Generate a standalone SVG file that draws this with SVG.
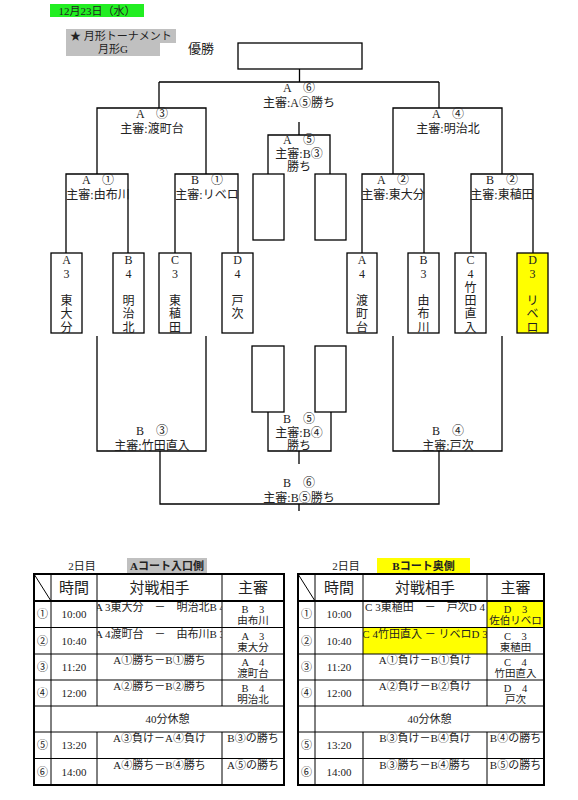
<svg xmlns="http://www.w3.org/2000/svg" width="578" height="800" viewBox="0 0 578 800">
<style>
.ln{stroke:#000;stroke-width:1.3;fill:none}
.bx{stroke:#000;stroke-width:1.3;fill:#fff}
.t{font-family:"Liberation Serif","Noto Sans CJK JP",serif;font-size:12px;fill:#222;text-anchor:middle}
.c{font-family:"Noto Sans CJK JP",sans-serif}
.s{font-size:11px}
.tb{font-size:10.5px}
.tm{font-size:11px}
.h{font-size:15px}
.tl{stroke:#000;stroke-width:1;fill:none}
.tk{stroke:#000;stroke-width:2;fill:none}
</style>
<defs>
<clipPath id="cL1"><rect x="97" y="601" width="125" height="26.5"/></clipPath>
<clipPath id="cL2"><rect x="97" y="627.5" width="125" height="26.5"/></clipPath>
<clipPath id="cR1"><rect x="363" y="601" width="124" height="26.5"/></clipPath>
<clipPath id="cR2"><rect x="363" y="627.5" width="124" height="26.5"/></clipPath>
</defs>
<rect width="578" height="800" fill="#fff"/>

<g id="header">
<rect x="50" y="4" width="94" height="13" fill="#22ee22"/>
<text class="t s" x="97" y="14.5">12月23日（水）</text>
<rect x="66" y="29" width="110" height="14" fill="#c0c0c0"/>
<rect x="66" y="43" width="94" height="13" fill="#c0c0c0"/>
<text class="t s" x="70" y="40" style="text-anchor:start">★ 月形トーナメント</text>
<text class="t s" x="113" y="53">月形G</text>
<text class="t" x="201" y="53" style="font-size:13px">優勝</text>
</g>

<g id="connectors">
<path class="ln" d="M299.5 69V82M159 82H439M159 82V108M439 82V108"/>
<path class="ln" d="M97 174V108H206V174"/>
<path class="ln" d="M393 174V108H502V174"/>
<path class="ln" d="M299 122V135M268 174V135H330V174"/>
<path class="ln" d="M66 253V174H128V253"/>
<path class="ln" d="M175 253V174H238V253"/>
<path class="ln" d="M362 253V174H424V253"/>
<path class="ln" d="M471 253V174H533V253"/>
<path class="ln" d="M97 336V451H206V336"/>
<path class="ln" d="M393 336V451H502V336"/>
<path class="ln" d="M268 412V451H331V412M299 451V464"/>
<path class="ln" d="M160 451V504H439V451M299 504V511"/>
</g>

<g id="winner"><rect class="bx" x="238" y="43" width="124" height="26"/></g>

<g id="labels">
<g id="mA6"><text class="t" x="299" y="91.5">A　<tspan class="c">⑥</tspan></text><text class="t" x="299" y="106.5">主審:A<tspan class="c">⑤</tspan>勝ち</text></g>
<g id="mA3"><text class="t" x="152" y="118">A　<tspan class="c">③</tspan></text><text class="t" x="152" y="132.5">主審:渡町台</text></g>
<g id="mA4"><text class="t" x="448" y="118">A　<tspan class="c">④</tspan></text><text class="t" x="448" y="132.5">主審:明治北</text></g>
<g id="mA5"><text class="t" x="299" y="144">A　<tspan class="c">⑤</tspan></text><text class="t" x="299" y="157.5">主審:B<tspan class="c">③</tspan></text><text class="t" x="299" y="171">勝ち</text></g>
<g id="mA1"><text class="t" x="98" y="184">A　<tspan class="c">①</tspan></text><text class="t" x="98" y="199">主審:由布川</text></g>
<g id="mB1"><text class="t" x="207" y="184">B　<tspan class="c">①</tspan></text><text class="t" x="207" y="199">主審:リベロ</text></g>
<g id="mA2"><text class="t" x="393" y="184">A　<tspan class="c">②</tspan></text><text class="t" x="393" y="199">主審:東大分</text></g>
<g id="mB2"><text class="t" x="502" y="184">B　<tspan class="c">②</tspan></text><text class="t" x="502" y="199">主審:東稙田</text></g>
<g id="mB3"><text class="t" x="152" y="435">B　<tspan class="c">③</tspan></text><text class="t" x="152" y="449.5">主審:竹田直入</text></g>
<g id="mB5"><text class="t" x="299" y="423">B　<tspan class="c">⑤</tspan></text><text class="t" x="299" y="436.5">主審:B<tspan class="c">④</tspan></text><text class="t" x="299" y="449.5">勝ち</text></g>
<g id="mB4"><text class="t" x="448" y="435">B　<tspan class="c">④</tspan></text><text class="t" x="448" y="449.5">主審:戸次</text></g>
<g id="mB6"><text class="t" x="299" y="486.5">B　<tspan class="c">⑥</tspan></text><text class="t" x="299" y="501.5">主審:B<tspan class="c">⑤</tspan>勝ち</text></g>
</g>

<g id="slots">
<rect class="bx" x="253" y="174" width="31" height="66"/>
<rect class="bx" x="315" y="174" width="31" height="66"/>
<rect class="bx" x="252" y="346" width="32" height="66"/>
<rect class="bx" x="315" y="346" width="31" height="66"/>
</g>

<g id="teamA3"><rect class="bx" x="51" y="253" width="31" height="80"/><text class="t" x="66.5" y="264">A</text><text class="t" x="66.5" y="278">3</text><text class="t" x="66.5" y="304.5">東</text><text class="t" x="66.5" y="318">大</text><text class="t" x="66.5" y="331.5">分</text></g>
<g id="teamB4"><rect class="bx" x="113" y="253" width="31" height="80"/><text class="t" x="128.5" y="264">B</text><text class="t" x="128.5" y="278">4</text><text class="t" x="128.5" y="304.5">明</text><text class="t" x="128.5" y="318">治</text><text class="t" x="128.5" y="331.5">北</text></g>
<g id="teamC3"><rect class="bx" x="159" y="253" width="32" height="80"/><text class="t" x="175" y="264">C</text><text class="t" x="175" y="278">3</text><text class="t" x="175" y="304.5">東</text><text class="t" x="175" y="318">稙</text><text class="t" x="175" y="331.5">田</text></g>
<g id="teamD4"><rect class="bx" x="222" y="253" width="31" height="80"/><text class="t" x="237.5" y="264">D</text><text class="t" x="237.5" y="278">4</text><text class="t" x="237.5" y="304.5">戸</text><text class="t" x="237.5" y="318">次</text></g>
<g id="teamA4"><rect class="bx" x="347" y="253" width="30" height="80"/><text class="t" x="362" y="264">A</text><text class="t" x="362" y="278">4</text><text class="t" x="362" y="304.5">渡</text><text class="t" x="362" y="318">町</text><text class="t" x="362" y="331.5">台</text></g>
<g id="teamB3"><rect class="bx" x="408" y="253" width="31" height="80"/><text class="t" x="423.5" y="264">B</text><text class="t" x="423.5" y="278">3</text><text class="t" x="423.5" y="304.5">由</text><text class="t" x="423.5" y="318">布</text><text class="t" x="423.5" y="331.5">川</text></g>
<g id="teamC4"><rect class="bx" x="455" y="253" width="31" height="80"/><text class="t" x="470.5" y="264">C</text><text class="t" x="470.5" y="278">4</text><text class="t" x="470.5" y="291.5">竹</text><text class="t" x="470.5" y="304.5">田</text><text class="t" x="470.5" y="318">直</text><text class="t" x="470.5" y="331.5">入</text></g>
<g id="teamD3"><rect class="bx" x="517" y="253" width="31" height="80" style="fill:#ffff00"/><text class="t" x="532.5" y="264">D</text><text class="t" x="532.5" y="278">3</text><text class="t" x="532.5" y="304.5">リ</text><text class="t" x="532.5" y="318">ベ</text><text class="t" x="532.5" y="331.5">ロ</text></g>

<g id="tableA">
<text class="t s" x="82" y="570">2日目</text>
<rect x="127" y="558" width="80" height="15" fill="#c0c0c0"/>
<text class="t s" x="167" y="570" style="font-weight:bold">Aコート入口側</text>
<path class="tl" d="M34 574L51 601"/>
<path class="tl" d="M34 627.5H284M34 654H284M34 680H284M34 706H284M34 732H284M34 758.5H284"/>
<path class="tk" d="M34 601H284"/>
<path class="tl" d="M51 574V785M97 574V706M97 732V785M222 574V706M222 732V785"/>
<rect class="tk" x="34" y="574" width="250" height="211"/>
<text class="t h" x="74" y="593">時間</text>
<text class="t h" x="159.5" y="593">対戦相手</text>
<text class="t h" x="253" y="593">主審</text>
<g class="t tm c"><text x="42.5" y="618">①</text><text x="42.5" y="645">②</text><text x="42.5" y="671">③</text><text x="42.5" y="697">④</text><text x="42.5" y="749">⑤</text><text x="42.5" y="776">⑥</text></g>
<text class="t tm" x="74" y="618">10:00</text><text class="t tm" x="74" y="645">10:40</text><text class="t tm" x="74" y="671">11:20</text><text class="t tm" x="74" y="697">12:00</text><text class="t tm" x="74" y="749">13:20</text><text class="t tm" x="74" y="776">14:00</text>
<text class="t s" x="160" y="611" clip-path="url(#cL1)">A 3東大分　－　明治北B 4</text>
<text class="t s" x="160" y="637.5" clip-path="url(#cL2)">A 4渡町台　－　由布川B 3</text>
<text class="t s" x="159.5" y="664">A<tspan class="c">①</tspan>勝ち－B<tspan class="c">①</tspan>勝ち</text>
<text class="t s" x="159.5" y="690">A<tspan class="c">②</tspan>勝ち－B<tspan class="c">②</tspan>勝ち</text>
<text class="t s" x="167.5" y="723">40分休憩</text>
<text class="t s" x="159.5" y="742">A<tspan class="c">③</tspan>負け－A<tspan class="c">④</tspan>負け</text>
<text class="t s" x="159.5" y="768.5">A<tspan class="c">④</tspan>勝ち－B<tspan class="c">④</tspan>勝ち</text>
<text class="t tb" x="253" y="613">B　3</text><text class="t tb" x="253" y="624">由布川</text>
<text class="t tb" x="253" y="639.5">A　3</text><text class="t tb" x="253" y="650.5">東大分</text>
<text class="t tb" x="253" y="666">A　4</text><text class="t tb" x="253" y="677">渡町台</text>
<text class="t tb" x="253" y="692">B　4</text><text class="t tb" x="253" y="703">明治北</text>
<text class="t s" x="253" y="742">B<tspan class="c">③</tspan>の勝ち</text>
<text class="t s" x="253" y="768.5">A<tspan class="c">⑤</tspan>の勝ち</text>
</g>

<g id="tableB">
<text class="t s" x="346" y="570">2日目</text>
<rect x="377" y="558" width="93" height="15" fill="#ffff00"/>
<text class="t s" x="423.5" y="570" style="font-weight:bold">Bコート奥側</text>
<rect x="487" y="601" width="57" height="26.5" fill="#ffff00"/>
<rect x="363" y="627.5" width="124" height="26.5" fill="#ffff00"/>
<path class="tl" d="M298 574L315 601"/>
<path class="tl" d="M298 627.5H544M298 654H544M298 680H544M298 706H544M298 732H544M298 758.5H544"/>
<path class="tk" d="M298 601H544"/>
<path class="tl" d="M315 574V785M363 574V706M363 732V785M487 574V706M487 732V785"/>
<rect class="tk" x="298" y="574" width="246" height="211"/>
<text class="t h" x="339" y="593">時間</text>
<text class="t h" x="425" y="593">対戦相手</text>
<text class="t h" x="515.5" y="593">主審</text>
<g class="t tm c"><text x="306.5" y="618">①</text><text x="306.5" y="645">②</text><text x="306.5" y="671">③</text><text x="306.5" y="697">④</text><text x="306.5" y="749">⑤</text><text x="306.5" y="776">⑥</text></g>
<text class="t tm" x="339" y="618">10:00</text><text class="t tm" x="339" y="645">10:40</text><text class="t tm" x="339" y="671">11:20</text><text class="t tm" x="339" y="697">12:00</text><text class="t tm" x="339" y="749">13:20</text><text class="t tm" x="339" y="776">14:00</text>
<text class="t s" x="425" y="611" clip-path="url(#cR1)">C 3東稙田　－　戸次D 4</text>
<text class="t s" x="425" y="637.5" clip-path="url(#cR2)">C 4竹田直入 － リベロD 3</text>
<text class="t s" x="425" y="664">A<tspan class="c">①</tspan>負け－B<tspan class="c">①</tspan>負け</text>
<text class="t s" x="425" y="690">A<tspan class="c">②</tspan>負け－B<tspan class="c">②</tspan>負け</text>
<text class="t s" x="429.5" y="723">40分休憩</text>
<text class="t s" x="425" y="742">B<tspan class="c">③</tspan>負け－B<tspan class="c">④</tspan>負け</text>
<text class="t s" x="425" y="768.5">B<tspan class="c">③</tspan>勝ち－B<tspan class="c">④</tspan>勝ち</text>
<text class="t tb" x="515.5" y="613">D　3</text><text class="t tb" x="515.5" y="624">佐伯リベロ</text>
<text class="t tb" x="515.5" y="639.5">C　3</text><text class="t tb" x="515.5" y="650.5">東稙田</text>
<text class="t tb" x="515.5" y="666">C　4</text><text class="t tb" x="515.5" y="677">竹田直入</text>
<text class="t tb" x="515.5" y="692">D　4</text><text class="t tb" x="515.5" y="703">戸次</text>
<text class="t s" x="515.5" y="742">B<tspan class="c">④</tspan>の勝ち</text>
<text class="t s" x="515.5" y="768.5">B<tspan class="c">⑤</tspan>の勝ち</text>
</g>
</svg>
